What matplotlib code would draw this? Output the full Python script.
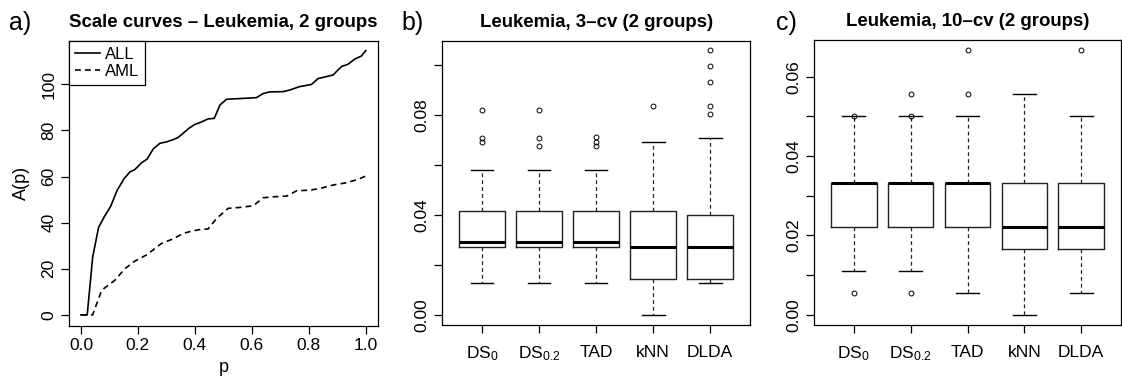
import matplotlib
matplotlib.use("Agg")
import matplotlib.pyplot as plt

plt.rcParams['font.family'] = ['Liberation Sans', 'DejaVu Sans']
plt.rcParams['mathtext.default'] = 'regular'

# ---- panel a: scale curves ----
all_p = [0.0, 0.022, 0.041, 0.062, 0.084, 0.104, 0.127, 0.151, 0.172, 0.189, 0.213, 0.232,
         0.254, 0.277, 0.300, 0.324, 0.342, 0.361, 0.380, 0.400, 0.418, 0.447, 0.468, 0.488,
         0.511, 0.558, 0.616, 0.640, 0.663, 0.710, 0.733, 0.768, 0.809, 0.833, 0.885, 0.897,
         0.915, 0.938, 0.961, 0.985, 1.0]
all_a = [0, 0, 25, 38, 43, 47, 54, 59, 62, 63, 66, 67.5,
         72, 74.4, 75, 76, 77, 79, 81, 82.6, 83.4, 85, 85.2, 91,
         93.5, 93.8, 94.2, 96, 96.7, 96.8, 97.5, 99, 99.9, 102.5, 104, 105.5,
         107.7, 108.7, 110.9, 112.3, 114.6]
aml_p = [0.0, 0.041, 0.073, 0.096, 0.119, 0.154, 0.189, 0.230, 0.260, 0.283, 0.324, 0.359,
         0.388, 0.418, 0.447, 0.476, 0.517, 0.558, 0.605, 0.640, 0.675, 0.722, 0.757, 0.803,
         0.839, 0.885, 0.932, 0.973, 1.0]
aml_a = [0, 0, 10.7, 12.9, 15, 20, 23.3, 26, 28.8, 31, 33, 35.3,
         36.3, 37, 37.3, 41.8, 46.2, 46.6, 47.3, 50.8, 51.2, 51.5, 53.8, 54.1,
         54.8, 56.3, 57.3, 58.8, 60.2]

# ---- boxplot summaries ----
methods = [r'DS$_0$', r'DS$_{0.2}$', 'TAD', 'kNN', 'DLDA']

cv3_whislo = [0.0127, 0.0127, 0.0127, 0.0, 0.0127]
cv3_q1 = [0.0271, 0.0271, 0.0271, 0.01455, 0.01455]
cv3_med = [0.0290, 0.0290, 0.0290, 0.0272, 0.0272]
cv3_q3 = [0.0417, 0.0417, 0.0417, 0.0417, 0.0399]
cv3_whishi = [0.0579, 0.0579, 0.0579, 0.0690, 0.0709]
cv3_fliers = [[0.0818, 0.0709, 0.0693],
              [0.0818, 0.0709, 0.0676],
              [0.0712, 0.0693, 0.0676],
              [0.0834],
              [0.1059, 0.0997, 0.0931, 0.0834, 0.0802]]

cv10_whislo = [0.0111, 0.0111, 0.00556, 0.0, 0.00556]
cv10_q1 = [0.0222, 0.0222, 0.0222, 0.0167, 0.0167]
cv10_med = [0.0333, 0.0333, 0.0333, 0.0222, 0.0222]
cv10_q3 = [0.0333, 0.0333, 0.0333, 0.0333, 0.0333]
cv10_whishi = [0.05, 0.05, 0.05, 0.0556, 0.05]
cv10_fliers = [[0.05, 0.00556],
               [0.0556, 0.05, 0.00556],
               [0.0667, 0.0556],
               [],
               [0.0667]]


def make_stats(lo, q1, med, q3, hi, fl):
    return [dict(whislo=a, q1=b, med=c, q3=d, whishi=e, fliers=f, label=m)
            for a, b, c, d, e, f, m in zip(lo, q1, med, q3, hi, fl, methods)]


def style_axes(ax):
    for s in ax.spines.values():
        s.set_linewidth(0.9)
    ax.tick_params(direction='out', length=6, width=0.9, labelsize=12.5, pad=3)
    for lab in ax.get_yticklabels():
        lab.set_rotation(90)
        lab.set_va('center')


def draw_box(ax, stats):
    # R-style boxplot: dashed whiskers, short caps, open-circle outliers
    ax.bxp(stats, widths=0.8, capwidths=0.4, showfliers=True,
           boxprops=dict(color='#222222', linewidth=1.0),
           medianprops=dict(color='black', linewidth=2.2, solid_capstyle='butt'),
           whiskerprops=dict(color='#222222', linewidth=0.9, linestyle=(0, (3, 2.5))),
           capprops=dict(color='black', linewidth=1.0),
           flierprops=dict(marker='o', markerfacecolor='none', markeredgecolor='black',
                           markersize=3.5, markeredgewidth=0.7, linestyle='none'))
    ax.set_xlim(0.3, 5.7)


fig = plt.figure(figsize=(11.22, 3.79), dpi=100)

# panel a
ax1 = fig.add_axes([0.0615, 0.140, 0.2754, 0.752])
ax1.plot(all_p, all_a, color='black', linewidth=1.2, label='ALL')
ax1.plot(aml_p, aml_a, color='black', linewidth=1.2, linestyle=(0, (3.5, 2.5)), label='AML')
ax1.set_xlim(-0.042, 1.043)
ax1.set_ylim(-4.8, 118.8)
ax1.set_xticks([0.0, 0.2, 0.4, 0.6, 0.8, 1.0])
ax1.set_yticks([0, 20, 40, 60, 80, 100])
ax1.set_xticklabels(['0.0', '0.2', '0.4', '0.6', '0.8', '1.0'])
ax1.set_xlabel('p', fontsize=13, labelpad=4)
ax1.set_ylabel('A(p)', fontsize=13, labelpad=8)
style_axes(ax1)
leg = ax1.legend(loc='upper left', borderaxespad=0, fancybox=False, edgecolor='black',
                 framealpha=1, fontsize=12, handlelength=1.5, handletextpad=0.3,
                 borderpad=0.35, labelspacing=0.15)
leg.get_frame().set_linewidth(0.9)
ax1.set_title('Scale curves \u2013 Leukemia, 2 groups', fontsize=13.4, fontweight='bold', pad=10)
fig.text(0.008, 0.94, 'a)', fontsize=18, va='center', ha='left')

# panel b
ax2 = fig.add_axes([0.394, 0.142, 0.2745, 0.751])
draw_box(ax2, make_stats(cv3_whislo, cv3_q1, cv3_med, cv3_q3, cv3_whishi, cv3_fliers))
ax2.set_ylim(-0.0041, 0.1097)
ax2.set_yticks([0.0, 0.02, 0.04, 0.06, 0.08, 0.10])
ax2.set_yticklabels(['0.00', '', '0.04', '', '0.08', ''])
style_axes(ax2)
ax2.tick_params(axis='x', pad=8)
ax2.set_title('Leukemia, 3\u2013cv (2 groups)', fontsize=13.4, fontweight='bold', pad=10)
fig.text(0.358, 0.94, 'b)', fontsize=18, va='center', ha='left')

# panel c
ax3 = fig.add_axes([0.7255, 0.142, 0.2736, 0.752])
draw_box(ax3, make_stats(cv10_whislo, cv10_q1, cv10_med, cv10_q3, cv10_whishi, cv10_fliers))
ax3.set_ylim(-0.0026, 0.0692)
ax3.set_yticks([0.0, 0.01, 0.02, 0.03, 0.04, 0.05, 0.06])
ax3.set_yticklabels(['0.00', '', '0.02', '', '0.04', '', '0.06'])
style_axes(ax3)
ax3.tick_params(axis='x', pad=8)
ax3.set_title('Leukemia, 10\u2013cv (2 groups)', fontsize=13.4, fontweight='bold', pad=10)
fig.text(0.692, 0.94, 'c)', fontsize=18, va='center', ha='left')

fig.savefig('out.png', dpi=100)
plt.close(fig)
